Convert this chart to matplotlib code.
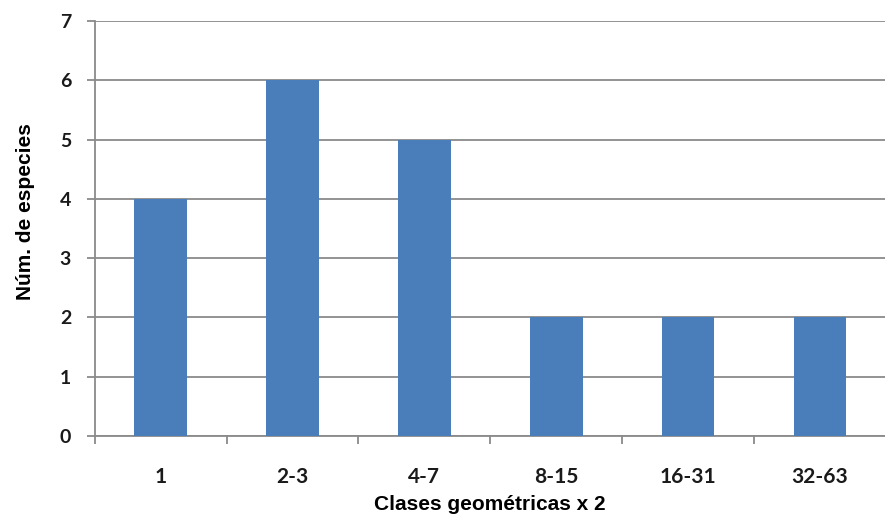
import matplotlib.pyplot as plt
import numpy as np

# Datos
clases = ['1', '2-3', '4-7', '8-15', '16-31', '32-63']
especies = [4, 6, 5, 2, 2, 2]
yticks = [0, 1, 2, 3, 4, 5, 6, 7]

fig = plt.figure(figsize=(8.85, 5.31), dpi=100)
ax = fig.add_axes([0.107, 0.179, 0.894, 0.781])

x = np.arange(len(clases))
ax.bar(x, especies, width=0.4, color='#4a7ebb', zorder=3)

ax.set_xlim(-0.5, len(clases) - 0.5)
ax.set_ylim(0, 7)
ax.set_yticks(yticks)
ax.yaxis.grid(True, color='#8a8a8a', linewidth=1.3, zorder=0)

# ticks entre categorias, etiquetas en el centro
ax.set_xticks(np.arange(len(clases) + 1) - 0.5)
ax.set_xticklabels([])
ax.set_xticks(x, minor=True)
ax.set_xticklabels(clases, minor=True)
ax.tick_params(axis='x', which='minor', length=0, pad=22)
ax.tick_params(axis='x', which='major', length=6, color='#8a8a8a', width=1.3)
ax.tick_params(axis='y', length=6, color='#8a8a8a', width=1.3, pad=11)

for lbl in ax.get_xticklabels(minor=True):
    lbl.set_fontsize(15)
for lbl in ax.get_yticklabels():
    lbl.set_fontsize(14)
for lbl in ax.get_xticklabels(minor=True) + ax.get_yticklabels():
    lbl.set_fontfamily('Lato')
    lbl.set_fontweight('bold')
    lbl.set_color('#1a1a1a')

for side in ['top', 'right']:
    ax.spines[side].set_visible(False)
for side in ['left', 'bottom']:
    ax.spines[side].set_color('#8a8a8a')
    ax.spines[side].set_linewidth(1.3)

ax.set_xlabel('Clases geométricas x 2', fontfamily='Liberation Sans',
              fontweight='bold', fontsize=15, labelpad=6)
ax.set_ylabel('Núm. de especies', fontfamily='Liberation Sans',
              fontweight='bold', fontsize=15, labelpad=18)
ax.yaxis.label.set_y(0.54)

fig.savefig('out.png', dpi=100)
